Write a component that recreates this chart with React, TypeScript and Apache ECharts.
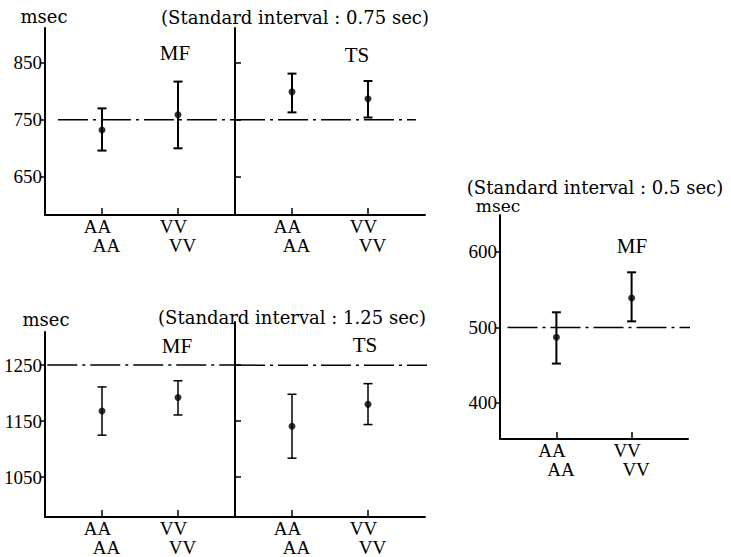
import React, { useEffect, useRef } from "react";
import * as echarts from "echarts";

// ---------- data ----------
const conditions = ["AA", "VV"];

// Standard interval 0.75 sec
const std075 = 750;
const ticks075 = [650, 750, 850];
const mf075Mean = [732, 759];
const mf075Low = [696, 700];
const mf075High = [770, 817];
const ts075Mean = [799, 787];
const ts075Low = [763, 754];
const ts075High = [831, 818];

// Standard interval 1.25 sec
const std125 = 1250;
const ticks125 = [1050, 1150, 1250];
const mf125Mean = [1168, 1192];
const mf125Low = [1125, 1161];
const mf125High = [1211, 1222];
const ts125Mean = [1141, 1180];
const ts125Low = [1084, 1144];
const ts125High = [1198, 1217];

// Standard interval 0.5 sec
const std05 = 500;
const ticks05 = [400, 500, 600];
const mf05Mean = [487, 539];
const mf05Low = [452, 508];
const mf05High = [520, 573];

const title075 = "(Standard interval : 0.75 sec)";
const title125 = "(Standard interval : 1.25 sec)";
const title05 = "(Standard interval : 0.5 sec)";
const unit = "msec";
const taskMF = "MF";
const taskTS = "TS";

// ---------- layout ----------
const SERIF = "Liberation Serif";
const WIDE = "DejaVu Serif";

type Panel = {
  grid: { left: number; top: number; width: number; height: number };
  yMin: number;
  yMax: number;
  ticks: number[];
  labels: boolean;
  std: number;
  refFrom: number;
  refTo: number;
  mean: number[];
  low: number[];
  high: number[];
  bw: number;
};

const panels: Panel[] = [
  { grid: { left: 45, top: 28, width: 190, height: 187 }, yMin: 583, yMax: 911, ticks: ticks075, labels: true, std: std075, refFrom: -0.58, refTo: 1.75, mean: mf075Mean, low: mf075Low, high: mf075High, bw: 2 },
  { grid: { left: 235, top: 28, width: 190, height: 187 }, yMin: 583, yMax: 911, ticks: ticks075, labels: false, std: std075, refFrom: -0.75, refTo: 1.63, mean: ts075Mean, low: ts075Low, high: ts075High, bw: 2 },
  { grid: { left: 45, top: 332, width: 190, height: 185 }, yMin: 979, yMax: 1309, ticks: ticks125, labels: true, std: std125, refFrom: -0.72, refTo: 1.75, mean: mf125Mean, low: mf125Low, high: mf125High, bw: 1.5 },
  { grid: { left: 235, top: 322, width: 190, height: 195 }, yMin: 979, yMax: 1327, ticks: ticks125, labels: false, std: std125, refFrom: -0.75, refTo: 1.91, mean: ts125Mean, low: ts125Low, high: ts125High, bw: 1.5 },
  { grid: { left: 500, top: 215, width: 188, height: 224 }, yMin: 352, yMax: 649, ticks: ticks05, labels: true, std: std05, refFrom: -0.65, refTo: 1.9, mean: mf05Mean, low: mf05Low, high: mf05High, bw: 2 },
];

const texts = [
  { text: title075, x: 295, y: 17, size: 18, family: WIDE },
  { text: unit, x: 44, y: 16, size: 18, family: WIDE },
  { text: taskMF, x: 175, y: 53, size: 21, family: SERIF },
  { text: taskTS, x: 357, y: 55, size: 21, family: SERIF },
  { text: title125, x: 292, y: 317, size: 18, family: WIDE },
  { text: unit, x: 46, y: 319, size: 18, family: WIDE },
  { text: taskMF, x: 177, y: 346, size: 21, family: SERIF },
  { text: taskTS, x: 365, y: 345, size: 21, family: SERIF },
  { text: title05, x: 595, y: 187, size: 18, family: WIDE },
  { text: unit, x: 498, y: 206, size: 17, family: WIDE },
  { text: taskMF, x: 632, y: 246, size: 21, family: SERIF },
];

function buildOption() {
  const grid = panels.map((p) => ({ ...p.grid, containLabel: false }));
  const xAxis = panels.map((p, i) => ({
    type: "value",
    gridIndex: i,
    min: -0.75,
    max: 1.75,
    splitLine: { show: false },
    axisLine: { show: true, onZero: false, lineStyle: { color: "#000", width: 2 } },
    axisTick: { show: true, inside: true, length: 7, customValues: [0, 1], lineStyle: { color: "#000", width: 1.5 } },
    axisLabel: {
      show: true,
      customValues: [0, 1],
      margin: 2,
      formatter: (v: number) => {
        const c = conditions[Math.round(v)] ?? "";
        return `{a|${c}}\n{b|${c}}`;
      },
      rich: {
        a: { fontFamily: SERIF, fontSize: 19, color: "#000", lineHeight: 19, padding: [0, 9, 0, 0] },
        b: { fontFamily: SERIF, fontSize: 19, color: "#000", lineHeight: 19, padding: [0, 0, 0, 9] },
      },
    },
  }));
  const yAxis = panels.map((p, i) => ({
    type: "value",
    gridIndex: i,
    min: p.yMin,
    max: p.yMax,
    splitLine: { show: false },
    axisLine: { show: true, onZero: false, lineStyle: { color: "#000", width: 2 } },
    axisTick: {
      show: true,
      inside: !p.labels,
      length: p.labels ? 4 : 6,
      customValues: p.ticks,
      lineStyle: { color: "#000", width: 1.5 },
    },
    axisLabel: {
      show: p.labels,
      customValues: p.ticks,
      margin: 3,
      formatter: (v: number) => `{n|${String(v)}}`,
      rich: {
        n: { fontFamily: SERIF, fontSize: 19, color: "#000" },
      },
    },
  }));

  const series: any[] = [];
  panels.forEach((p, i) => {
    series.push({
      type: "line",
      xAxisIndex: i,
      yAxisIndex: i,
      data: [
        [p.refFrom, p.std],
        [p.refTo, p.std],
      ],
      symbol: "none",
      clip: false,
      silent: true,
      lineStyle: { color: "#000", width: 1.5, type: [30, 5, 3, 5] },
    });
    series.push({
      type: "custom",
      xAxisIndex: i,
      yAxisIndex: i,
      clip: false,
      data: conditions.map((_, j) => [j, p.low[j], p.high[j]]),
      encode: { x: 0, y: [1, 2] },
      renderItem: (_params: any, api: any) => {
        const x = api.value(0);
        const lo = api.coord([x, api.value(1)]);
        const hi = api.coord([x, api.value(2)]);
        const cap = 4.5;
        const style = { stroke: "#000", lineWidth: p.bw };
        return {
          type: "group",
          children: [
            { type: "line", shape: { x1: lo[0], y1: lo[1], x2: hi[0], y2: hi[1] }, style },
            { type: "line", shape: { x1: lo[0] - cap, y1: lo[1], x2: lo[0] + cap, y2: lo[1] }, style },
            { type: "line", shape: { x1: hi[0] - cap, y1: hi[1], x2: hi[0] + cap, y2: hi[1] }, style },
          ],
        };
      },
    });
    series.push({
      type: "scatter",
      xAxisIndex: i,
      yAxisIndex: i,
      data: conditions.map((_, j) => [j, p.mean[j]]),
      symbol: "circle",
      symbolSize: 7,
      itemStyle: { color: "#000" },
      z: 5,
    });
  });

  const graphic = texts.map((t) => ({
    type: "text",
    x: t.x,
    y: t.y,
    style: {
      text: t.text,
      fontFamily: t.family,
      fontSize: t.size,
      fill: "#000",
      align: "center",
      verticalAlign: "middle",
      textAlign: "center",
      textVerticalAlign: "middle",
    },
  }));

  return {
    animation: false,
    backgroundColor: "#fff",
    grid,
    xAxis,
    yAxis,
    series,
    graphic,
  };
}

export default function App() {
  const ref = useRef<HTMLDivElement>(null);
  useEffect(() => {
    if (!ref.current) return;
    const chart = echarts.init(ref.current, undefined, { renderer: "svg" });
    chart.setOption(buildOption() as any);
    return () => chart.dispose();
  }, []);
  return (
    <div
      ref={ref}
      style={{ position: "absolute", left: 0, top: 0, width: 731, height: 557, background: "#fff" }}
    />
  );
}
